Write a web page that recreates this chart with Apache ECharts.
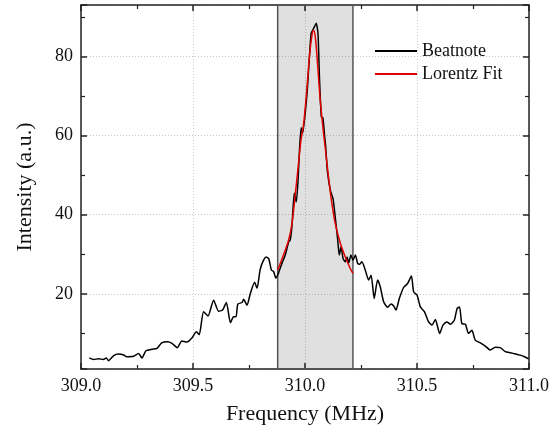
<!DOCTYPE html>
<html>
<head>
<meta charset="utf-8">
<script src="https://cdn.jsdelivr.net/npm/echarts@6/dist/echarts.min.js"></script>
<style>
  html, body { margin: 0; padding: 0; background: #fff; }
  #chart { width: 557px; height: 436px; }
</style>
</head>
<body>
<div id="chart"></div>
<script>
// beatnote spectrum
const beatFreq = [
  309.037, 309.056, 309.079, 309.100, 309.113, 309.123, 309.146, 309.168, 309.188, 309.205,
  309.235, 309.257, 309.272, 309.290, 309.317, 309.339, 309.360, 309.387, 309.406, 309.430,
  309.450, 309.473, 309.496, 309.515, 309.528, 309.547, 309.567, 309.592, 309.614, 309.632,
  309.649, 309.667, 309.681, 309.692, 309.700, 309.719, 309.726, 309.741, 309.756, 309.775,
  309.786, 309.800, 309.815, 309.826, 309.838, 309.850, 309.860, 309.870, 309.880, 309.897,
  309.912, 309.927, 309.934, 309.942, 309.952, 309.961, 309.969, 309.976, 309.983, 309.989,
  310.009, 310.027, 310.036, 310.043, 310.050, 310.058, 310.065, 310.073, 310.080, 310.088,
  310.092, 310.100, 310.113, 310.125, 310.135, 310.146, 310.153, 310.161, 310.170, 310.180,
  310.188, 310.195, 310.205, 310.214, 310.225, 310.235, 310.244, 310.254, 310.269, 310.284,
  310.295, 310.309, 310.324, 310.336, 310.351, 310.369, 310.384, 310.396, 310.406, 310.421,
  310.440, 310.458, 310.475, 310.485, 310.500, 310.515, 310.533, 310.552, 310.567, 310.582,
  310.601, 310.616, 310.634, 310.649, 310.667, 310.679, 310.690, 310.700, 310.716, 310.730,
  310.745, 310.760, 310.783, 310.805, 310.827, 310.850, 310.872, 310.894, 310.917, 310.940,
  310.960, 310.980, 310.998
];
const beatInt = [
  3.8, 3.4, 3.6, 3.4, 3.8, 3.1, 4.4, 4.8, 4.6, 4.1,
  4.2, 4.9, 3.8, 5.6, 6.0, 6.2, 7.6, 7.9, 7.5, 6.4,
  8.1, 7.8, 8.9, 10.4, 9.7, 15.5, 14.4, 18.4, 15.6, 15.9,
  17.8, 12.7, 14.2, 14.2, 17.4, 17.8, 18.6, 17.1, 20.1, 22.9,
  21.4, 26.2, 28.5, 29.3, 28.9, 26.0, 25.6, 24.0, 25.0, 27.7,
  29.8, 33.1, 33.6, 37.3, 45.4, 43.2, 48.7, 57.1, 62.0, 60.5,
  70.6, 85.8, 86.8, 87.6, 88.4, 85.8, 74.0, 64.7, 64.5, 59.6,
  57.5, 51.0, 46.2, 44.1, 39.4, 33.6, 29.8, 31.9, 28.9, 28.1,
  29.3, 27.8, 29.8, 28.5, 29.8, 27.7, 27.5, 28.1, 26.0, 23.5,
  24.7, 18.8, 23.5, 21.8, 18.0, 16.6, 17.4, 16.9, 15.9, 18.8,
  21.6, 22.6, 24.5, 20.5, 19.7, 16.7, 15.5, 12.9, 12.1, 13.5,
  10.0, 12.1, 12.9, 12.3, 13.4, 16.3, 16.7, 12.5, 12.3, 10.0,
  10.8, 8.3, 7.6, 6.8, 5.8, 6.5, 6.4, 5.4, 5.1, 4.8,
  4.5, 4.1, 3.6
];

// lorentz fit curve (red)
const fitFreq = [
  309.878, 309.904, 309.927, 309.942, 309.957, 309.971, 309.982, 309.994, 310.009, 310.021,
  310.031, 310.038, 310.046, 310.056, 310.068, 310.083, 310.090, 310.105, 310.120, 310.135,
  310.158, 310.180, 310.202, 310.214
];
const fitInt = [
  26.0, 29.8, 33.6, 37.8, 45.4, 52.9, 58.8, 63.0, 72.3, 80.7,
  85.3, 86.6, 84.9, 78.2, 68.9, 60.5, 57.1, 49.5, 42.8, 37.8,
  32.7, 29.3, 26.4, 25.2
];

// fit window (shaded)
const fitWindow = [309.878, 310.214];

const xTicks = ['309.0', '309.5', '310.0', '310.5', '311.0'];
const yTicks = [20, 40, 60, 80];

const zip = (a, b) => a.map((v, i) => [v, b[i]]);

const font = 'Liberation Serif, Times New Roman, serif';
const frame = '#222';

const xBase = {
  type: 'value',
  min: 309,
  max: 311,
  interval: 0.5,
  axisLine: { onZero: false, lineStyle: { color: frame, width: 1.5 } },
  axisTick: { inside: true, length: 6, lineStyle: { color: frame, width: 1.5 } },
  minorTick: { show: true, splitNumber: 2, length: 4, lineStyle: { color: frame, width: 1.2 } }
};
const yBase = {
  type: 'value',
  min: 1,
  max: 93,
  splitNumber: 5,
  axisLine: { onZero: false, lineStyle: { color: frame, width: 1.5 } },
  axisTick: { inside: true, length: 6, lineStyle: { color: frame, width: 1.5 } },
  minorTick: { show: true, splitNumber: 2, length: 4, lineStyle: { color: frame, width: 1.2 } }
};

const chart = echarts.init(document.getElementById('chart'), null, { renderer: 'canvas' });

chart.setOption({
  animation: false,
  backgroundColor: '#fff',
  textStyle: { fontFamily: font },
  grid: { left: 81, right: 28, top: 5, bottom: 67, containLabel: false },
  legend: {
    orient: 'vertical',
    left: 369,
    top: 37,
    itemWidth: 42,
    itemHeight: 14,
    itemGap: 5,
    itemStyle: { opacity: 0 },
    textStyle: { fontFamily: font, fontSize: 18, color: '#111' },
    data: ['Beatnote', 'Lorentz Fit']
  },
  xAxis: [
    Object.assign({}, xBase, {
      position: 'bottom',
      name: 'Frequency (MHz)',
      nameLocation: 'middle',
      nameGap: 34,
      nameTextStyle: { fontFamily: font, fontSize: 22, color: '#111' },
      axisLabel: {
        fontFamily: font, fontSize: 18, color: '#111', margin: 8,
        formatter: v => xTicks.find(t => Math.abs(parseFloat(t) - v) < 1e-6) || ''
      },
      splitLine: { show: true, lineStyle: { color: '#c8c8c8', type: [1, 2], width: 1 } }
    }),
    Object.assign({}, xBase, {
      position: 'top',
      axisLabel: { show: false },
      splitLine: { show: false }
    })
  ],
  yAxis: [
    Object.assign({}, yBase, {
      position: 'left',
      name: 'Intensity (a.u.)',
      nameLocation: 'middle',
      nameGap: 45,
      nameTextStyle: { fontFamily: font, fontSize: 22, color: '#111' },
      axisLabel: {
        fontFamily: font, fontSize: 18, color: '#111', margin: 8,
        formatter: v => (yTicks.indexOf(Math.round(v)) >= 0 && Math.abs(v - Math.round(v)) < 1e-6) ? String(Math.round(v)) : ''
      },
      splitLine: { show: true, lineStyle: { color: '#c8c8c8', type: [1, 2], width: 1 } }
    }),
    Object.assign({}, yBase, {
      position: 'right',
      axisLabel: { show: false },
      splitLine: { show: false }
    })
  ],
  series: [
    {
      name: 'Beatnote',
      type: 'line',
      xAxisIndex: 0,
      yAxisIndex: 0,
      symbol: 'none',
      smooth: 0.2,
      lineStyle: { color: '#000', width: 1.5 },
      itemStyle: { color: '#000' },
      data: zip(beatFreq, beatInt),
      markArea: {
        silent: true,
        itemStyle: { color: 'rgba(0,0,0,0.12)', borderColor: '#555', borderWidth: 1.5 },
        data: [[{ xAxis: fitWindow[0] }, { xAxis: fitWindow[1] }]]
      },
      z: 3
    },
    {
      name: 'Lorentz Fit',
      type: 'line',
      xAxisIndex: 0,
      yAxisIndex: 0,
      symbol: 'none',
      smooth: 0.3,
      lineStyle: { color: '#e00000', width: 1.5 },
      itemStyle: { color: '#e00000' },
      data: zip(fitFreq, fitInt),
      z: 4
    }
  ]
});
</script>
</body>
</html>
